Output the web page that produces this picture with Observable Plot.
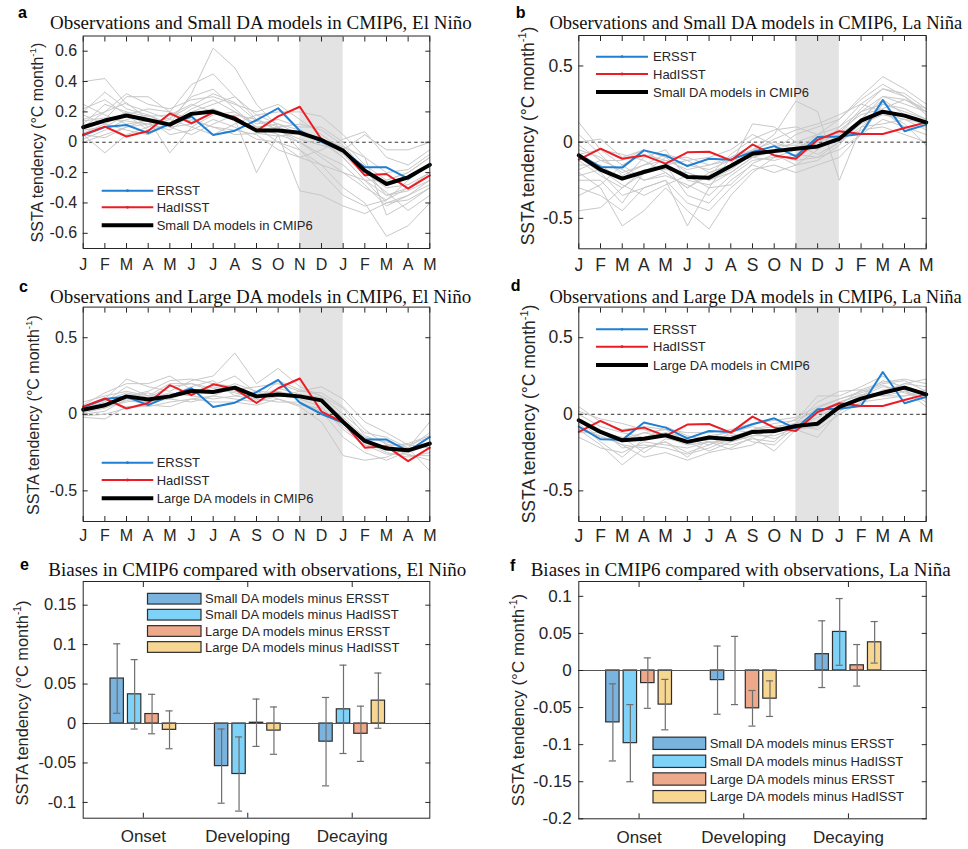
<!DOCTYPE html>
<html><head><meta charset="utf-8">
<script src="https://cdn.jsdelivr.net/npm/d3@7"></script>
<script src="https://cdn.jsdelivr.net/npm/@observablehq/plot@0.6"></script>
<style>
body{margin:0;background:#fff;}
#fig{position:relative;width:968px;height:849px;overflow:hidden;background:#fff;}
#fig > svg, #fig > figure{position:absolute;margin:0;}
</style></head><body><div id="fig"></div>
<script>
// ---------- data ----------
const months = ["J","F","M","A","M","J","J","A","S","O","N","D","J","F","M","A","M"];
const shadeMonths = [10, 12]; // Nov .. Jan
const lineYTicksA = [-0.6,-0.4,-0.2,0,0.2,0.4,0.6];
const lineYTicksB = [-0.5,0,0.5];

const ersstElNino   = [0.045,0.10,0.114,0.06,0.12,0.17,0.048,0.076,0.145,0.224,0.076,0.002,-0.056,-0.165,-0.165,-0.24,-0.148];
const hadisstElNino = [0.05,0.103,0.038,0.074,0.19,0.125,0.196,0.166,0.074,0.17,0.234,0.018,-0.053,-0.218,-0.209,-0.306,-0.218];
const smallDAElNino = [0.099,0.143,0.176,0.147,0.116,0.187,0.202,0.154,0.077,0.077,0.062,0.015,-0.055,-0.187,-0.275,-0.231,-0.149];
const largeDAElNino = [0.03,0.059,0.117,0.096,0.117,0.152,0.146,0.174,0.117,0.13,0.117,0.091,-0.05,-0.174,-0.224,-0.235,-0.191];
const ersstLaNina   = [-0.08,-0.163,-0.167,-0.054,-0.087,-0.157,-0.109,-0.115,-0.065,-0.026,-0.093,0.033,0.037,0.054,0.276,0.072,0.115];
const hadisstLaNina = [-0.115,-0.043,-0.109,-0.087,-0.141,-0.067,-0.063,-0.12,-0.015,-0.087,-0.109,0.015,0.072,0.054,0.054,0.093,0.13];
const smallDALaNina = [-0.087,-0.18,-0.239,-0.196,-0.157,-0.228,-0.233,-0.157,-0.076,-0.059,-0.043,-0.028,0.022,0.141,0.2,0.174,0.13];
const largeDALaNina = [-0.039,-0.115,-0.17,-0.159,-0.137,-0.18,-0.152,-0.163,-0.115,-0.109,-0.076,-0.061,0.048,0.102,0.141,0.174,0.13];

const smallModelsElNino = [
 [0.40,0.42,0.25,0.20,0.15,0.30,0.35,0.22,0.10,0.05,0.00,-0.10,-0.20,-0.30,-0.38,-0.30,-0.20],
 [0.20,0.33,0.22,0.18,0.12,0.32,0.62,0.49,0.25,0.10,0.05,0.00,-0.10,-0.25,-0.35,-0.32,-0.25],
 [0.10,0.15,0.30,0.30,0.20,0.38,0.45,0.30,0.15,0.10,-0.05,-0.15,-0.30,-0.40,-0.62,-0.55,-0.40],
 [0.05,-0.07,0.05,0.10,0.18,0.25,0.20,0.15,-0.20,0.05,-0.32,-0.35,-0.42,-0.47,-0.40,-0.35,-0.25],
 [0.15,0.20,0.32,0.25,0.22,0.28,0.30,0.25,0.20,0.25,0.15,0.05,-0.05,-0.20,-0.30,-0.28,-0.20],
 [0.00,0.05,0.10,0.15,-0.07,0.10,0.05,0.12,0.18,0.20,0.20,0.17,0.05,-0.10,-0.48,-0.40,-0.30],
 [0.12,0.25,0.20,0.10,0.15,0.10,0.18,0.20,0.10,0.00,-0.10,-0.15,-0.20,-0.25,-0.25,-0.20,-0.10],
 [0.02,0.08,0.15,0.18,0.10,0.05,0.12,0.18,0.15,0.08,0.02,-0.02,-0.05,0.05,-0.05,-0.05,0.00],
 [0.18,0.12,0.08,0.05,0.12,0.22,0.28,0.20,0.12,0.15,0.10,0.10,0.00,-0.15,-0.25,-0.20,-0.10],
 [0.08,0.10,0.18,0.22,0.20,0.15,0.10,0.08,0.05,-0.05,-0.10,-0.05,0.02,0.07,-0.10,-0.15,-0.05],
 [0.25,0.18,0.12,0.14,0.10,0.12,0.20,0.14,0.10,0.12,0.08,0.02,-0.10,-0.25,-0.40,-0.38,-0.30],
 [0.05,0.03,0.10,0.12,0.08,0.18,0.22,0.16,0.08,0.10,0.12,0.08,-0.02,-0.18,-0.35,-0.30,-0.22],
 [0.10,0.20,0.26,0.15,0.05,0.08,0.15,0.10,0.02,0.00,-0.05,-0.20,-0.35,-0.42,-0.38,-0.25,-0.15],
 [0.22,0.28,0.18,0.08,0.12,0.20,0.25,0.30,0.18,0.12,0.05,0.03,-0.08,-0.22,-0.33,-0.45,-0.35],
 [0.06,0.12,0.20,0.17,0.18,0.14,0.10,0.05,0.06,0.04,0.06,0.02,-0.03,-0.10,-0.20,-0.18,-0.08],
 [0.14,0.16,0.14,0.12,0.16,0.24,0.32,0.26,0.14,0.08,0.00,-0.08,-0.15,-0.28,-0.42,-0.35,-0.28]
];
const smallModelsLaNina = [
 [-0.45,-0.43,-0.30,-0.20,-0.10,-0.20,-0.25,-0.20,-0.10,-0.05,0.00,0.05,0.10,0.25,0.35,0.30,0.20],
 [0.13,-0.05,-0.15,-0.25,-0.20,-0.30,-0.20,-0.15,0.12,0.10,0.00,-0.05,0.05,0.20,0.25,0.20,0.15],
 [-0.20,-0.30,-0.55,-0.45,-0.30,-0.45,-0.57,-0.35,-0.20,-0.10,-0.05,0.05,0.15,0.30,0.43,0.35,0.25],
 [-0.10,-0.20,-0.35,-0.30,-0.25,-0.55,-0.30,-0.10,-0.05,0.05,0.27,0.20,-0.25,0.10,0.20,0.10,0.05],
 [-0.05,-0.10,-0.20,-0.15,-0.12,-0.15,-0.18,-0.12,-0.05,0.00,-0.05,0.00,0.05,0.15,0.30,0.25,0.20],
 [0.00,0.02,-0.10,-0.05,-0.10,-0.10,-0.15,-0.10,-0.02,-0.08,-0.12,-0.10,-0.05,0.05,0.15,0.10,0.10],
 [-0.25,-0.25,-0.40,-0.20,-0.15,-0.35,-0.40,-0.25,-0.15,-0.20,-0.15,-0.05,0.10,0.20,0.30,0.28,0.22],
 [-0.15,-0.15,-0.25,-0.10,-0.05,-0.25,-0.28,-0.20,-0.10,-0.12,-0.08,-0.10,0.00,0.12,0.18,0.15,0.12],
 [-0.08,-0.05,-0.08,-0.12,-0.20,-0.30,-0.22,-0.08,0.02,0.08,0.10,0.05,0.02,0.08,0.10,0.05,0.00],
 [-0.30,-0.35,-0.45,-0.30,-0.25,-0.40,-0.45,-0.30,-0.18,-0.15,-0.20,-0.15,-0.10,0.05,0.25,0.22,0.15],
 [-0.12,-0.22,-0.30,-0.18,-0.18,-0.20,-0.25,-0.18,-0.08,-0.05,0.05,0.10,0.15,0.28,0.38,0.30,0.18],
 [-0.18,-0.12,-0.18,-0.25,-0.22,-0.28,-0.35,-0.22,-0.12,-0.10,-0.10,0.00,0.08,0.18,0.22,0.28,0.20],
 [0.05,-0.08,-0.22,-0.15,-0.08,-0.12,-0.10,-0.05,0.05,-0.02,-0.02,-0.08,0.00,0.10,0.12,0.15,0.08],
 [-0.22,-0.18,-0.28,-0.35,-0.28,-0.22,-0.30,-0.28,-0.14,-0.08,-0.15,-0.12,-0.02,0.15,0.28,0.18,0.12],
 [-0.35,-0.28,-0.15,-0.08,-0.12,-0.18,-0.15,-0.12,-0.10,-0.06,-0.04,0.02,0.06,0.22,0.35,0.32,0.22],
 [-0.02,-0.12,-0.12,-0.05,-0.15,-0.12,-0.20,-0.15,-0.06,0.02,0.08,0.12,0.18,0.25,0.20,0.12,-0.02]
];
const largeModelsElNino = [
 [0.05,0.10,0.23,0.18,0.15,0.22,0.25,0.40,0.20,0.30,0.18,0.12,0.00,-0.12,-0.15,-0.22,-0.05],
 [0.00,0.02,0.10,0.08,0.10,0.15,0.18,0.15,0.12,0.15,0.10,0.05,-0.10,-0.20,-0.22,-0.25,-0.20],
 [0.08,0.12,0.15,0.12,0.20,0.20,0.15,0.20,0.15,0.10,0.05,-0.05,-0.27,-0.30,-0.28,-0.22,-0.37],
 [-0.02,-0.03,0.05,0.05,0.08,0.10,0.12,0.10,0.08,0.12,0.15,0.18,0.10,-0.05,-0.12,-0.20,-0.15],
 [0.03,0.06,0.12,0.15,0.22,0.23,0.20,0.18,0.12,0.15,0.12,0.10,-0.05,-0.18,-0.25,-0.28,-0.25],
 [0.04,0.08,0.18,0.12,0.12,0.18,0.22,0.12,0.10,0.08,0.08,0.02,-0.15,-0.25,-0.30,-0.24,-0.18],
 [0.02,0.05,0.08,0.10,0.14,0.12,0.10,0.12,0.15,0.14,0.12,0.08,-0.02,-0.15,-0.18,-0.22,-0.12],
 [0.06,0.14,0.20,0.20,0.25,0.16,0.14,0.16,0.18,0.20,0.15,0.14,0.05,-0.10,-0.20,-0.20,-0.22],
 [-0.01,0.00,0.04,0.06,0.05,0.10,0.08,0.08,0.06,0.10,0.06,0.04,-0.08,-0.20,-0.26,-0.26,-0.30],
 [0.05,0.09,0.14,0.11,0.18,0.20,0.17,0.14,0.11,0.17,0.13,0.11,-0.03,-0.17,-0.22,-0.24,-0.19],
 [0.01,0.04,0.09,0.07,0.11,0.14,0.19,0.25,0.14,0.12,0.11,0.09,-0.06,-0.19,-0.21,-0.19,-0.14],
 [0.03,0.07,0.11,0.14,0.10,0.08,0.12,0.18,0.09,0.22,0.16,0.12,0.04,-0.14,-0.19,-0.27,-0.27]
];
const largeModelsLaNina = [
 [0.05,-0.05,-0.10,-0.08,-0.10,-0.12,-0.12,-0.10,-0.06,-0.04,-0.02,0.05,0.10,0.15,0.20,0.22,0.15],
 [-0.10,-0.20,-0.33,-0.22,-0.18,-0.25,-0.20,-0.15,-0.10,-0.08,-0.06,0.08,0.15,0.16,0.12,0.15,0.10],
 [-0.05,-0.12,-0.20,-0.28,-0.25,-0.30,-0.25,-0.22,-0.15,-0.24,-0.10,-0.15,0.02,0.10,0.15,0.20,0.23],
 [-0.15,-0.22,-0.25,-0.18,-0.20,-0.22,-0.18,-0.23,-0.20,-0.12,-0.08,-0.05,0.05,0.12,0.22,0.18,0.12],
 [0.00,-0.08,-0.12,-0.15,-0.12,-0.15,-0.15,-0.14,-0.12,-0.10,-0.06,0.00,0.08,0.12,0.18,0.16,0.08],
 [-0.08,-0.15,-0.18,-0.12,-0.15,-0.20,-0.18,-0.18,-0.14,-0.14,-0.09,-0.06,0.04,0.10,0.14,0.20,0.18],
 [-0.03,-0.10,-0.22,-0.20,-0.22,-0.26,-0.22,-0.16,-0.10,-0.06,-0.04,0.12,0.12,0.18,0.25,0.16,0.05],
 [-0.12,-0.12,-0.15,-0.25,-0.16,-0.18,-0.14,-0.12,-0.08,-0.12,-0.07,-0.10,0.00,0.08,0.10,0.12,0.14],
 [-0.06,-0.18,-0.28,-0.16,-0.08,-0.14,-0.18,-0.20,-0.16,-0.18,-0.05,0.04,0.10,0.14,0.19,0.14,0.10],
 [0.02,-0.03,-0.06,-0.10,-0.14,-0.16,-0.20,-0.12,-0.18,-0.20,-0.08,-0.02,0.06,0.16,0.21,0.23,0.20],
 [-0.10,-0.14,-0.20,-0.22,-0.18,-0.28,-0.16,-0.10,-0.12,-0.16,-0.10,-0.08,0.03,0.07,0.16,0.18,0.13],
 [-0.04,-0.16,-0.16,-0.12,-0.10,-0.18,-0.24,-0.18,-0.14,-0.10,-0.03,0.02,0.08,0.13,0.12,0.12,0.16]
];

// bar panels
const phases = ["Onset","Developing","Decaying"];
const barSeries = ["Small DA models minus ERSST","Small DA models minus HadISST","Large DA models minus ERSST","Large DA models minus HadISST"];
const barColors = ["#7ab3de","#7fd2f7","#eea98b","#f6d690"];
const biasElNino = [[0.057,0.037,0.012,-0.008],[-0.054,-0.064,0.001,-0.009],[-0.023,0.018,-0.013,0.029]];
const errElNino  = [[0.044,0.044,0.025,0.024],[0.047,0.047,0.030,0.030],[0.056,0.056,0.035,0.035]];
const biasLaNina = [[-0.070,-0.098,-0.017,-0.046],[-0.013,0.000,-0.051,-0.038],[0.022,0.052,0.007,0.038]];
const errLaNina  = [[0.052,0.052,0.034,0.034],[0.046,0.046,0.024,0.024],[0.045,0.045,0.028,0.028]];
const barYTicksE = [-0.1,-0.05,0,0.05,0.1,0.15];
const barYTicksF = [-0.2,-0.15,-0.1,-0.05,0,0.05,0.1];

// ---------- helpers ----------
const fig = document.getElementById("fig");
const INK = "#262626";
const fmt = d => String(d);

function place(node, left, top) {
  node.style.left = left + "px"; node.style.top = top + "px";
  fig.appendChild(node);
}
function boxAxes(xTicks, yTicks) {
  const s = {stroke: INK, label: null, fill: "none"};
  return [
    Plot.axisY({...s, anchor:"left", ticks:yTicks, tickSize:5, dx:5}),
    Plot.axisY({...s, anchor:"right", ticks:yTicks, tickSize:5, dx:-5}),
    Plot.axisX({...s, anchor:"bottom", ticks:xTicks, tickSize:5, dy:-5}),
    Plot.axisX({...s, anchor:"top", ticks:xTicks, tickSize:5, dy:5}),
    Plot.frame({stroke: INK, strokeWidth: 1})
  ];
}

function linePanel(p) {
  const {region:[L,T,W,H], frame:[x0,x1,y0,y1], yTicks, fs, models, ersst, had, mean, padX} = p;
  const greyRows = models.flatMap((m, k) => m.map((v, i) => ({model:k, i, v})));
  const idx = d3.range(months.length);
  const chart = Plot.plot({
    width: W, height: H,
    marginLeft: x0 - L, marginRight: L + W - x1, marginTop: y0 - T, marginBottom: T + H - y1,
    style: {fontFamily: '"Liberation Sans", Arial, sans-serif', fontSize: fs + "px", color: INK, background: "transparent", overflow: "visible"},
    x: {domain: [0, months.length - 1]},
    y: {domain: [-0.7, 0.7]},
    marks: [
      Plot.rect([shadeMonths], {x1: d => d[0], x2: d => d[1], fill: "#e3e3e3"}),
      Plot.ruleY([0], {stroke: "#333", strokeWidth: 1, strokeDasharray: "3.5,3"}),
      Plot.line(greyRows, {x: "i", y: "v", z: "model", stroke: "#c8c8c8", strokeWidth: 1}),
      Plot.line(idx, {x: i => i, y: i => ersst[i], stroke: "#1f7fd3", strokeWidth: 2}),
      Plot.line(idx, {x: i => i, y: i => had[i], stroke: "#ec1c24", strokeWidth: 2}),
      Plot.line(idx, {x: i => i, y: i => mean[i], stroke: "#000", strokeWidth: 4}),
      ...boxAxes(idx, yTicks),
      Plot.axisY({ticks: yTicks, tickSize: 0, tickPadding: 6, tickFormat: fmt, label: null, fill: INK}),
      Plot.axisX({ticks: idx, tickSize: 0, tickPadding: padX, tickFormat: i => months[i], label: null, fill: INK})
    ]
  });
  place(chart, L, T);
}

const xDomainBars = [0.424, 3.743];
const barPitch = 0.167, barHalf = 0.064, capHalf = 0.034;
function barPanel(p) {
  const {region:[L,T,W,H], frame:[x0,x1,y0,y1], yTicks, yDomain, fs, bias, err} = p;
  const rows = phases.flatMap((ph, g) => barSeries.map((s, k) => ({
    g, k, value: bias[g][k], err: err[g][k], c: g + 1 + (k - 1.5) * barPitch
  })));
  const gpos = phases.map((_, g) => g + 1);
  const chart = Plot.plot({
    width: W, height: H,
    marginLeft: x0 - L, marginRight: L + W - x1, marginTop: y0 - T, marginBottom: T + H - y1,
    style: {fontFamily: '"Liberation Sans", Arial, sans-serif', fontSize: fs + "px", color: INK, background: "transparent", overflow: "visible"},
    x: {domain: xDomainBars},
    y: {domain: yDomain},
    marks: [
      Plot.rect(rows, {x1: d => d.c - barHalf, x2: d => d.c + barHalf, y1: d => 0, y2: "value",
        fill: d => barColors[d.k], stroke: "#2e2e2e", strokeWidth: 1.2}),
      Plot.ruleY([0], {stroke: "#555", strokeWidth: 1.2}),
      Plot.ruleX(rows, {x: "c", y1: d => d.value - d.err, y2: d => d.value + d.err, stroke: "#6e6e6e", strokeWidth: 1.2}),
      Plot.ruleY(rows, {y: d => d.value + d.err, x1: d => d.c - capHalf, x2: d => d.c + capHalf, stroke: "#6e6e6e", strokeWidth: 1.2}),
      Plot.ruleY(rows, {y: d => d.value - d.err, x1: d => d.c - capHalf, x2: d => d.c + capHalf, stroke: "#6e6e6e", strokeWidth: 1.2}),
      ...boxAxes(gpos, yTicks),
      Plot.axisY({ticks: yTicks, tickSize: 0, tickPadding: 7, tickFormat: fmt, label: null, fill: INK}),
      Plot.axisX({ticks: gpos, tickSize: 0, tickPadding: 12, tickFormat: g => phases[g - 1], label: null, fill: INK, fontSize: 17})
    ]
  });
  place(chart, L, T);
}

// ---------- panels ----------
linePanel({region:[0,0,484,280], frame:[82.7,429.3,35.5,248], yTicks: lineYTicksA, fs:16, padX:10,
  models: smallModelsElNino, ersst: ersstElNino, had: hadisstElNino, mean: smallDAElNino});
linePanel({region:[484,0,484,280], frame:[578.3,925.7,35,248.3], yTicks: lineYTicksB, fs:17.5, padX:10,
  models: smallModelsLaNina, ersst: ersstLaNina, had: hadisstLaNina, mean: smallDALaNina});
linePanel({region:[0,280,484,270], frame:[82.7,429.3,306.6,521], yTicks: lineYTicksB, fs:16, padX:8,
  models: largeModelsElNino, ersst: ersstElNino, had: hadisstElNino, mean: largeDAElNino});
linePanel({region:[484,280,484,270], frame:[578.3,925.7,306.6,521], yTicks: lineYTicksB, fs:17.5, padX:8,
  models: largeModelsLaNina, ersst: ersstLaNina, had: hadisstLaNina, mean: largeDALaNina});
barPanel({region:[0,550,484,299], frame:[82.7,429.3,581,817.7], yTicks: barYTicksE, yDomain:[-0.12,0.18], fs:16.5,
  bias: biasElNino, err: errElNino});
barPanel({region:[484,550,484,299], frame:[578.3,925.7,581,818.3], yTicks: barYTicksF, yDomain:[-0.2,0.12], fs:17,
  bias: biasLaNina, err: errLaNina});

// ---------- overlay text: titles, letters, y labels, legends ----------
const NS = "http://www.w3.org/2000/svg";
const ov = document.createElementNS(NS, "svg");
ov.setAttribute("width", 968); ov.setAttribute("height", 849);
ov.style.position = "absolute"; ov.style.left = "0px"; ov.style.top = "0px";
ov.style.fontFamily = '"Liberation Sans", Arial, sans-serif';
fig.appendChild(ov);
function el(tag, attrs, parent = ov) {
  const e = document.createElementNS(NS, tag);
  for (const k in attrs) e.setAttribute(k, attrs[k]);
  parent.appendChild(e); return e;
}
function text(x, y, str, attrs = {}) {
  const t = el("text", {x, y, fill: INK, ...attrs}); t.textContent = str; return t;
}

const titles = [
  ["a", 18, 18, 50, 29.3, 19, "Observations and Small DA models in CMIP6, El Niño"],
  ["b", 515.7, 18, 549.5, 29.3, 18.5, "Observations and Small DA models in CMIP6, La Niña"],
  ["c", 19, 291.7, 50, 302.7, 19, "Observations and Large DA models in CMIP6, El Niño"],
  ["d", 510.7, 290.5, 549.5, 302.7, 18.5, "Observations and Large DA models in CMIP6, La Niña"],
  ["e", 20, 570, 48.3, 576, 19, "Biases in CMIP6 compared with observations, El Niño"],
  ["f", 510, 570.5, 530.7, 576, 19, "Biases in CMIP6 compared with observations, La Niña"]
];
for (const [l, lx, ly, tx, ty, tfs, t] of titles) {
  text(lx, ly, l, {"font-weight": "bold", "font-size": 16, fill: "#000"});
  text(tx, ty, t, {"font-family": '"Liberation Serif", "Times New Roman", serif', "font-size": tfs, fill: "#111"});
}

const ylabels = [[43, 142.5, 16], [533.5, 136, 17.5], [39, 415, 16], [535, 414, 17.5], [27.5, 703, 16.4], [524, 700, 17]];
for (const [x, y, fs] of ylabels) {
  const t = el("text", {transform: `translate(${x},${y}) rotate(-90)`, "text-anchor": "middle", "font-size": fs, fill: INK});
  t.appendChild(document.createTextNode("SSTA tendency (°C month"));
  const s = el("tspan", {dy: -0.42 * fs, "font-size": fs * 0.62}, t); s.textContent = "-1";
  const c = el("tspan", {dy: 0.42 * fs}, t); c.textContent = ")";
}

function lineLegend(x0, x1, tx, ys, meanLabel) {
  const items = [["ERSST", "#1f7fd3", 2], ["HadISST", "#ec1c24", 2], [meanLabel, "#000", 4]];
  items.forEach(([lab, col, w], i) => {
    el("line", {x1: x0, x2: x1, y1: ys[i], y2: ys[i], stroke: col, "stroke-width": w});
    if (i < 2) el("circle", {cx: (x0 + x1) / 2, cy: ys[i], r: 1.4, fill: col});
    text(tx, ys[i], lab, {"font-size": 13, "dominant-baseline": "central"});
  });
}
lineLegend(101.7, 153.3, 156.7, [190.7, 207.3, 225.3], "Small DA models in CMIP6");
lineLegend(596, 648, 653, [56.7, 74, 92], "Small DA models in CMIP6");
lineLegend(101.7, 153.3, 156.7, [462.7, 480, 498.3], "Large DA models in CMIP6");
lineLegend(596, 648, 653, [329.3, 346.7, 365], "Large DA models in CMIP6");

function barLegend(x0, x1, tx, ys, h) {
  barSeries.forEach((lab, i) => {
    el("rect", {x: x0, y: ys[i] - h / 2, width: x1 - x0, height: h, fill: barColors[i], stroke: "#2e2e2e", "stroke-width": 1.2});
    text(tx, ys[i], lab, {"font-size": 13, "dominant-baseline": "central"});
  });
}
barLegend(147.5, 201, 205, [598.7, 614.7, 631, 647], 10.7);
barLegend(653, 705.7, 709.7, [743.3, 761.3, 779, 796.7], 12.3);
</script></body></html>
